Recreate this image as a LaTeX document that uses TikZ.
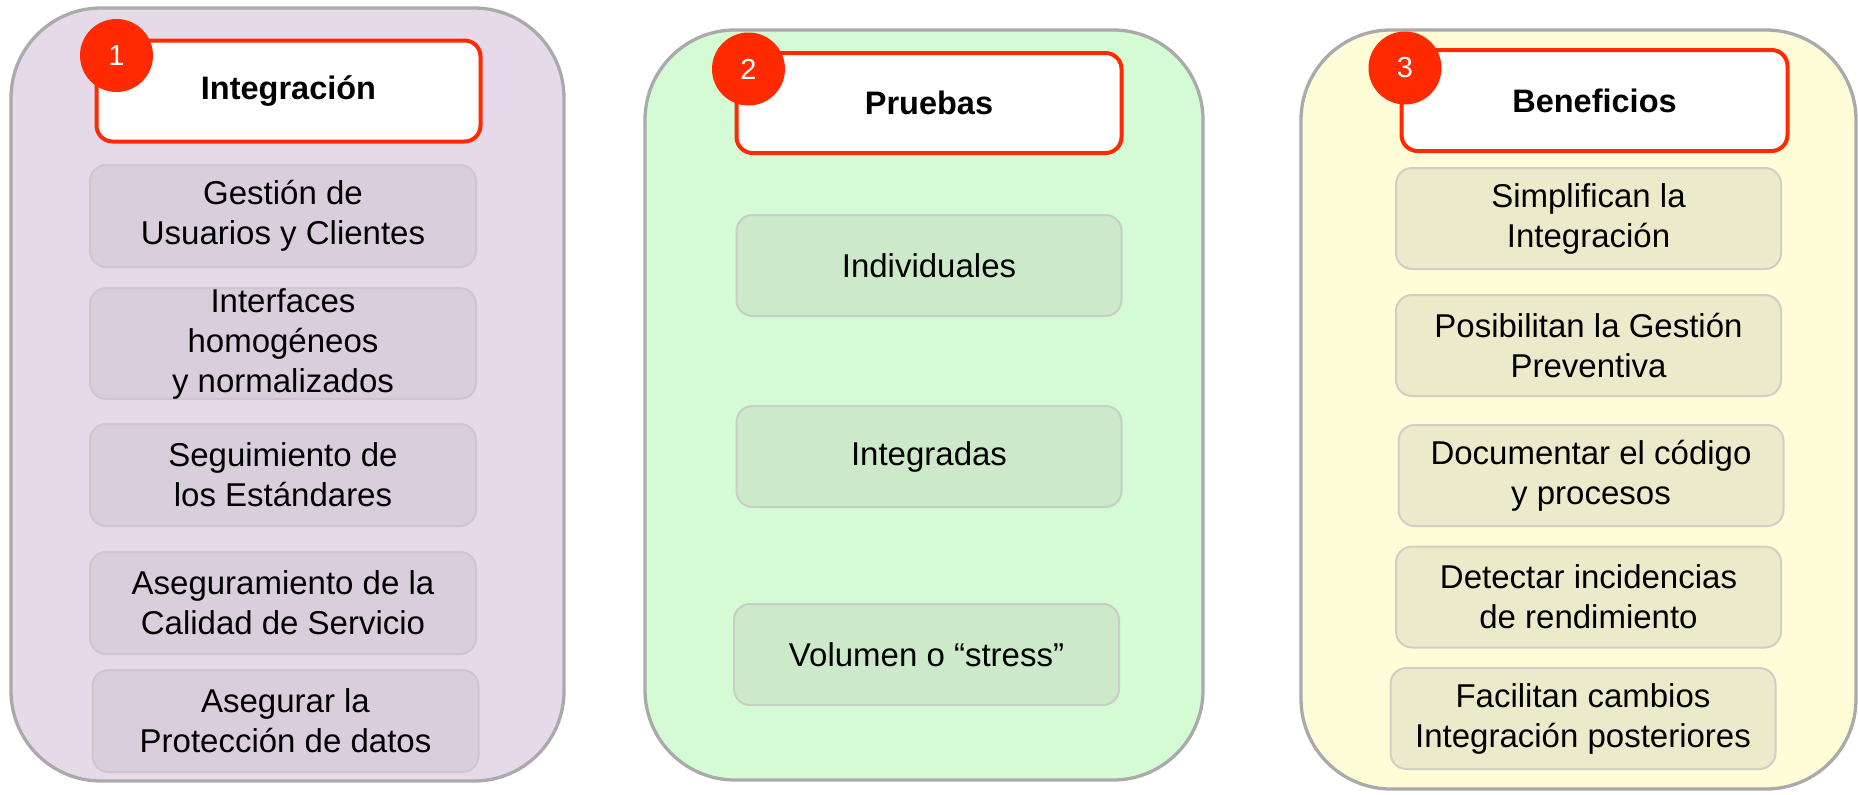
\documentclass[tikz,border=0pt]{standalone}
\usepackage{fontspec}
\setmainfont{Liberation Sans}
\definecolor{pborder}{HTML}{AAAAAA}
\definecolor{redc}{HTML}{FF2A00}
\definecolor{fillA}{HTML}{E6DAEA}
\definecolor{itemA}{HTML}{D9CEDC}
\definecolor{lineA}{HTML}{CDC6CF}
\definecolor{fillB}{HTML}{D4FBD4}
\definecolor{itemB}{HTML}{CCE9CA}
\definecolor{lineB}{HTML}{C9CDC8}
\definecolor{fillC}{HTML}{FFFCD8}
\definecolor{itemC}{HTML}{EBEACB}
\definecolor{lineC}{HTML}{CFCFC6}
\tikzset{
  panel/.style={draw=pborder, line width=3.3pt, rounded corners=90pt, inner sep=0pt},
  titlebox/.style={draw=redc, fill=white, line width=4pt, rounded corners=16pt, inner sep=0pt,
    font=\fontsize{32.5}{38}\selectfont\bfseries},
  itembox/.style={line width=2pt, rounded corners=16pt, inner sep=0pt, align=center,
    font=\fontsize{33}{40}\selectfont},
  numcirc/.style={circle, fill=redc, text=white, inner sep=0pt, minimum size=73pt,
    font=\fontsize{29}{32}\selectfont},
}
\begin{document}
\begin{tikzpicture}[x=1pt,y=-1pt]
\useasboundingbox (0,0) rectangle (1858,795);
% panels
\node[panel, fill=fillA, minimum width=553pt, minimum height=773pt] (p1) at (287.5,394.5) {};
\node[panel, fill=fillB, minimum width=558pt, minimum height=750pt] (p2) at (924,405) {};
\node[panel, fill=fillC, minimum width=555pt, minimum height=759pt] (p3) at (1578.5,409.5) {};
% titles
\node[titlebox, minimum width=384pt, minimum height=101pt] (t1) at (288.5,91) {Integración};
\node[titlebox, minimum width=385pt, minimum height=100pt] (t2) at (929,103) {Pruebas};
\node[titlebox, minimum width=386pt, minimum height=101pt] (t3) at (1594.5,100.5) {Beneficios};
% number circles
\node[numcirc] (n1) at (116.5,55.5) {1};
\node[numcirc] (n2) at (748.5,69) {2};
\node[numcirc] (n3) at (1405,68) {3};
% panel 1 items
\tikzset{itA/.style={itembox, fill=itemA, draw=lineA, minimum width=386pt, minimum height=102pt}}
\node[itA] (a1) at (283,216) {Gestión de\\Usuarios y Clientes};
\node[itA] (a2) at (283,343.5) {Interfaces\\homogéneos\\y normalizados};
\node[itA] (a3) at (283,475) {Seguimiento de\\los Estándares};
\node[itA] (a4) at (283,603) {Aseguramiento de la\\Calidad de Servicio};
\node[itA] (a5) at (285.5,721) {Asegurar la\\Protección de datos};
% panel 2 items
\tikzset{itB/.style={itembox, fill=itemB, draw=lineB, minimum width=385pt, minimum height=101pt}}
\node[itB] (b1) at (929,265.5) {Individuales};
\node[itB] (b2) at (929,456.5) {Integradas};
\node[itB] (b3) at (926.5,654.5) {Volumen o “stress”};
% panel 3 items
\tikzset{itC/.style={itembox, fill=itemC, draw=lineC, minimum width=385pt, minimum height=101pt}}
\node[itC] (c1) at (1588.5,218.5) {Simplifican la\\Integración};
\node[itC] (c2) at (1588.5,345.5) {Posibilitan la Gestión\\Preventiva};
\node[itC] (c3) at (1591,475.5) {Documentar el código\\y procesos};
\node[itC] (c4) at (1588.5,597) {Detectar incidencias\\de rendimiento};
\node[itC] (c5) at (1583,718.5) {Facilitan cambios\\Integración posteriores};
\end{tikzpicture}
\end{document}
